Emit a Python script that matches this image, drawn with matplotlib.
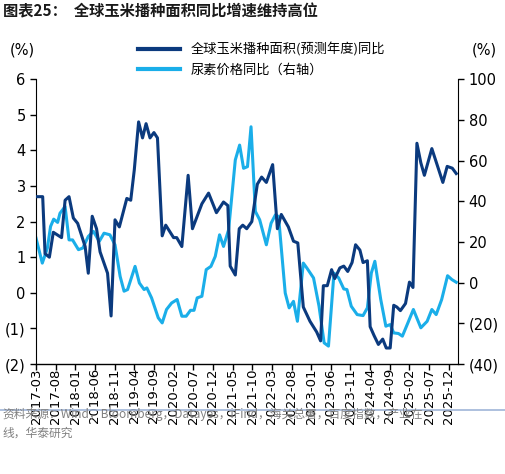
import matplotlib
matplotlib.use("Agg")
import matplotlib.pyplot as plt
from matplotlib.lines import Line2D

plt.rcParams['font.family'] = ['Noto Sans CJK SC', 'DejaVu Sans']

# month offsets from 2017-03
corn_m = [0, 1.7, 2.3, 3.4, 4.4, 6.5, 7.4, 8.4, 9.5, 10.6, 12.5, 13.3, 14.3, 15.4, 16.3, 18.2, 19.1, 20.1, 21.2, 23.1, 24.1,
          25, 26.1, 27.1, 28, 29, 30, 30.9, 32.1, 33, 35, 35.8, 37.1, 38.7, 39.8, 42.2, 43.9, 45.9, 47.7, 48.8, 49.4,
          50.7, 51.7, 52.6, 53.6, 54.9, 56.3, 57.4, 58.6, 60.2, 61.4, 62.4, 64.2, 65.5, 66.6, 68, 69.7, 71.4, 72.4,
          73.1, 74.1, 75.2, 76, 77.3, 78.3, 79.3, 80.4, 81.3, 82.4, 83.2, 84.3, 85, 86, 87.1, 88.2, 89.1, 90.1, 91,
          91.8, 92.7, 94, 95, 95.9, 96.9, 97.9, 98.8, 100.7, 103.5, 104.6, 105.9, 106.9]
corn_v = [2.7, 2.7, 1.1, 1.0, 1.7, 1.55, 2.6, 2.7, 2.1, 1.95, 1.3, 0.55, 2.15, 1.8, 1.15, 0.55, -0.65, 2.05, 1.85, 2.65, 2.6,
          3.45, 4.8, 4.35, 4.75, 4.35, 4.5, 4.35, 1.6, 1.9, 1.55, 1.55, 1.3, 3.3, 1.8, 2.5, 2.8, 2.25, 2.55, 2.45, 0.75,
          0.5, 1.8, 1.9, 1.8, 2.0, 3.05, 3.25, 3.1, 3.6, 1.8, 2.2, 1.85, 1.45, 1.4, -0.4, -0.8, -1.1, -1.35,
          0.2, 0.2, 0.65, 0.4, 0.7, 0.75, 0.6, 0.85, 1.35, 1.2, 0.85, 0.9, -0.95, -1.2, -1.45, -1.3, -1.55, -1.55, -0.35,
          -0.4, -0.5, -0.3, 0.3, 0.15, 4.2, 3.65, 3.3, 4.05, 3.1, 3.55, 3.5, 3.35]

urea_m = [0, 1.6, 2.9, 3.7, 4.5, 5.5, 6.1, 7.4, 8.4, 9.3, 10.8, 11.9, 13.3, 14.6, 16.1, 17.3, 18.8, 20.1, 21.4, 22.4, 23.3,
          25.2, 26.3, 27.5, 28.2, 29.4, 31.1, 32.1, 33.2, 34.5, 35.9, 37.1, 38.2, 39.3, 40.2, 41, 42.2, 43.3, 44.5, 45.6,
          46.7, 47.7, 49, 50.7, 51.8, 52.8, 53.8, 54.7, 55.8, 56.9, 58.6, 59.8, 60.9, 61.7, 63.4, 64.4, 65.5, 66.5, 68,
          68.9, 70.6, 72, 73.3, 74.4, 75.8, 77, 78.3, 79.1, 80.2, 81.7, 83.2, 84.3, 85.3, 86.2, 87.7, 89, 90.1, 91, 92.2,
          93.2, 94.6, 96, 97.9, 99.5, 100.7, 101.8, 103.2, 104.7, 105.8, 106.9]
urea_v = [21.9, 9.6, 17, 27.6, 31.2, 29.6, 34.1, 37.4, 21, 21, 16.2, 17, 22.7, 25.2, 20.3, 24.3, 23.5, 18.6, 3.1, -4.2, -3.4,
          8, -0.2, -3.4, -2.6, -7.5, -17.3, -19.8, -13.2, -10, -8.3, -16.5, -16.5, -13.6, -13.6, -7.5, -6.7, 6.4, 8, 12.9,
          23.5, 17.8, 26, 60.3, 67.6, 56.2, 57, 76.6, 35, 30.9, 18.6, 29.2, 33.3, 32.5, -5.1, -12.4, -9.2, -19, 9.6,
          7.2, 2.3, -11.6, -29.6, -31.2, 4.7, 2.3, -3.1, -3.4, -11.6, -15.7, -16.2, -12.4, 4.7, 10.5, -8.3, -21.4, -20.6, -24.7, -25,
          -26.3, -19.8, -13.2, -22.2, -19, -13.2, -15.7, -8.3, 3.4, 1.5, 0.2]

tick_m = list(range(0, 106, 5))
tick_labels = ['2017-03', '2017-08', '2018-01', '2018-06', '2018-11', '2019-04', '2019-09', '2020-02', '2020-07',
               '2020-12', '2021-05', '2021-10', '2022-03', '2022-08', '2023-01', '2023-06', '2023-11', '2024-04',
               '2024-09', '2025-02', '2025-07', '2025-12']

dark = '#0b3a7e'
light = '#1aaee9'

fig = plt.figure(figsize=(5.05, 4.74), dpi=100)
ax = fig.add_axes([0.0713, 0.232, 0.836, 0.601])
ax2 = ax.twinx()
ax.plot(corn_m, corn_v, color=dark, lw=2.2, zorder=3)
ax2.plot(urea_m, urea_v, color=light, lw=2.2, zorder=2)
ax.set_zorder(ax2.get_zorder() + 1)
ax.patch.set_visible(False)

ax.set_xlim(0, 107.4)
ax.set_ylim(-2, 6)
ax2.set_ylim(-40, 100)
ax.set_yticks(range(-2, 7))
ax.set_yticklabels(['(2)', '(1)', '0', '1', '2', '3', '4', '5', '6'], fontsize=10.5, family='DejaVu Sans')
ax2.set_yticks(range(-40, 101, 20))
ax2.set_yticklabels(['(40)', '(20)', '0', '20', '40', '60', '80', '100'], fontsize=10.5, family='DejaVu Sans')
for a in (ax, ax2):
    for s in ('top', 'bottom'):
        a.spines[s].set_visible(False)
    a.tick_params(axis='y', length=4, width=1)
ax2.spines['left'].set_visible(False)
ax.spines['right'].set_visible(False)

ax.set_xticks(tick_m)
ax.set_xticklabels(tick_labels, rotation=90, fontsize=9.5, family='DejaVu Sans')
ax.tick_params(axis='x', length=0, pad=3)
sec = ax.secondary_xaxis(0)
sec.set_xticks(tick_m)
sec.set_xticklabels([])
sec.tick_params(axis='x', length=4, width=1, direction='out')
sec.spines['bottom'].set_linewidth(1)

fig.text(0.02, 0.885, '(%)', fontsize=10.5, family='DejaVu Sans')
fig.text(0.935, 0.885, '(%)', fontsize=10.5, family='DejaVu Sans')
fig.text(0.005, 0.965, '图表25：  全球玉米播种面积同比增速维持高位', fontsize=11, fontweight='bold', color='#1a1a1a')

handles = [Line2D([], [], color=dark, lw=3), Line2D([], [], color=light, lw=3)]
fig.legend(handles, ['全球玉米播种面积(预测年度)同比', '尿素价格同比（右轴）'], loc='upper left',
           bbox_to_anchor=(0.25, 0.935), frameon=False, fontsize=9.5, handlelength=3.2, labelspacing=0.5)

fig.add_artist(Line2D([0, 1], [0.135, 0.135], color='#9fb5d8', lw=1.2, transform=fig.transFigure))
fig.text(0.005, 0.078, '资料来源：Wind，Bloomberg，Datayes，iFind，海关总署，百度指数，产业在\n线，华泰研究',
         fontsize=8.5, color='#808080', linespacing=1.6)

fig.savefig('out.png', dpi=100)
